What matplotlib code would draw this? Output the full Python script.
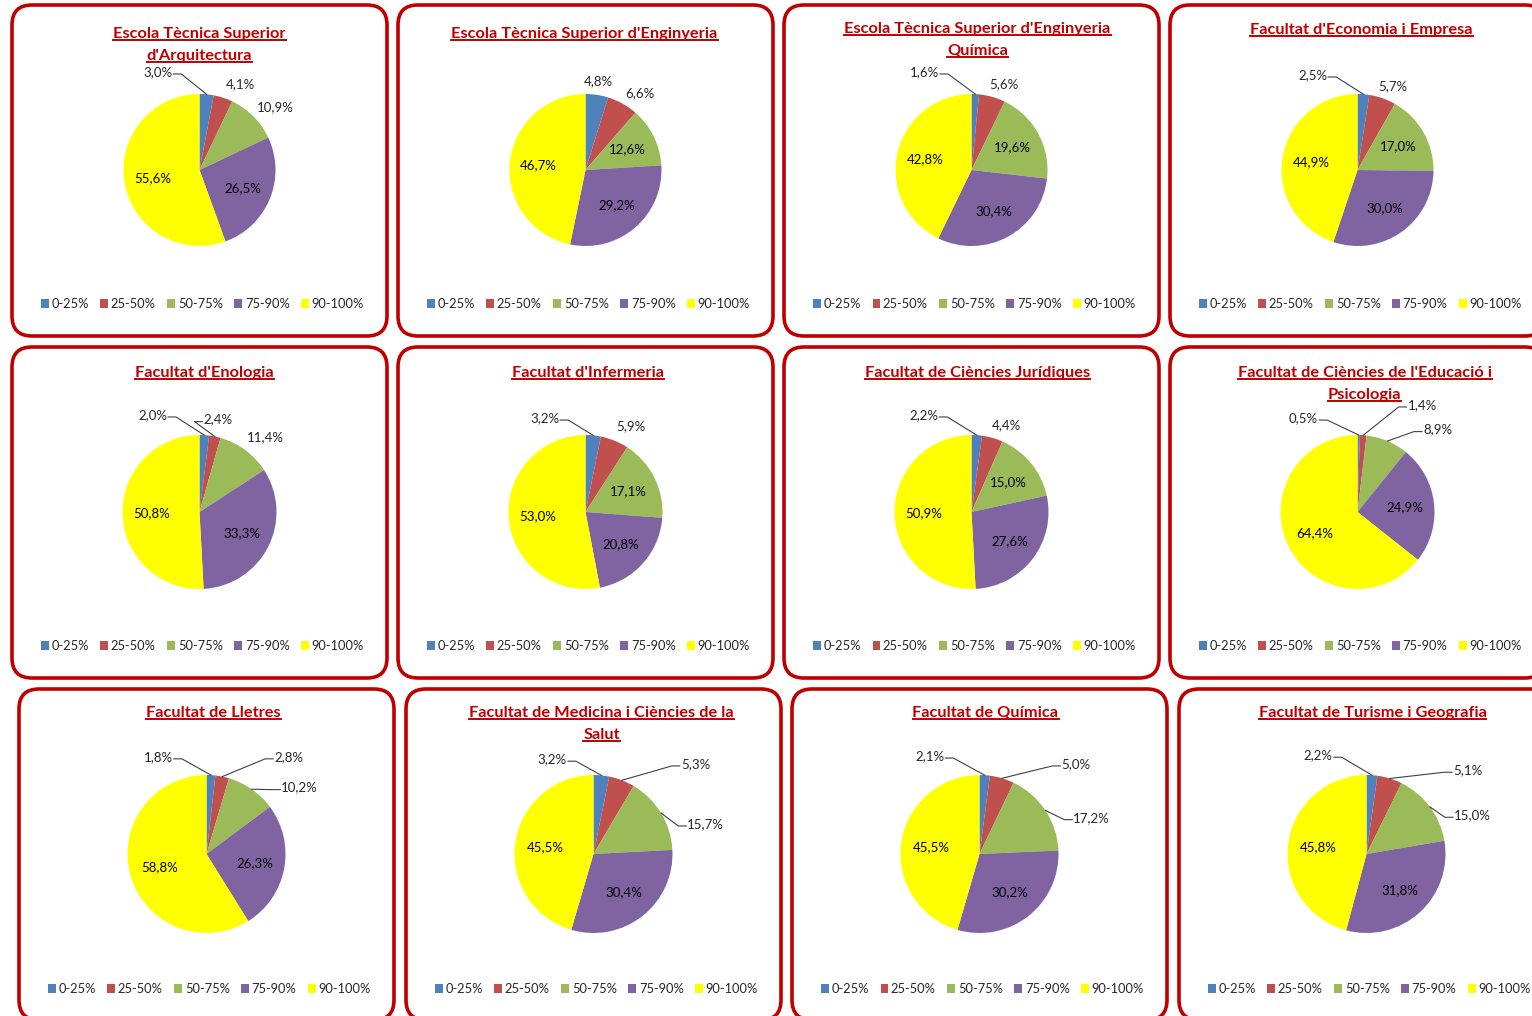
import numpy as np
import matplotlib
matplotlib.use('Agg')
from matplotlib import pyplot as plt
from matplotlib import patches
from matplotlib.lines import Line2D

plt.rcParams['font.family'] = ['Lato', 'DejaVu Sans']

# ~~~~~~~~~~~~~~~~~~~~   data  ~~~~~~~~~~~~~~~~~~~~~~~~~
categories = ['0-25%', '25-50%', '50-75%', '75-90%', '90-100%']
colors = ['#4F81BD', '#C0504D', '#9BBB59', '#8064A2', '#FFFF00']

titles = [
    ["Escola Tècnica Superior", "d'Arquitectura"],
    ["Escola Tècnica Superior d'Enginyeria"],
    ["Escola Tècnica Superior d'Enginyeria", "Química"],
    ["Facultat d'Economia i Empresa"],
    ["Facultat d'Enologia"],
    ["Facultat d'Infermeria"],
    ["Facultat de Ciències Jurídiques"],
    ["Facultat de Ciències de l'Educació i", "Psicologia"],
    ["Facultat de Lletres"],
    ["Facultat de Medicina i Ciències de la", "Salut"],
    ["Facultat de Química"],
    ["Facultat de Turisme i Geografia"],
]

values = [
    [3.0, 4.1, 10.9, 26.5, 55.6],
    [4.8, 6.6, 12.6, 29.2, 46.7],
    [1.6, 5.6, 19.6, 30.4, 42.8],
    [2.5, 5.7, 17.0, 30.0, 44.9],
    [2.0, 2.4, 11.4, 33.3, 50.8],
    [3.2, 5.9, 17.1, 20.8, 53.0],
    [2.2, 4.4, 15.0, 27.6, 50.9],
    [0.5, 1.4, 8.9, 24.9, 64.4],
    [1.8, 2.8, 10.2, 26.3, 58.8],
    [3.2, 5.3, 15.7, 30.4, 45.5],
    [2.1, 5.0, 17.2, 30.2, 45.5],
    [2.2, 5.1, 15.0, 31.8, 45.8],
]

# ~~~~~~~~~~~~~~~~~~~~   layout (pixels)  ~~~~~~~~~~~~~~~~~~~~~~~~~
W, H = 1532, 1016
box_w, box_h = 375, 331
row_tops = [5, 347, 689]
col_lefts = [[12, 398, 784, 1170], [12, 398, 784, 1170], [19, 406, 792, 1179]]
pie_y = [170, 512, 854]
pie_r = [76, 77, 79]
legend_y = [304, 646, 989]
title_y = [34, 34, 29, 30, 373, 373, 373, 373, 713, 713, 713, 713]
title_dx = [0, -1, 6, 4, 5, 2, 6, 7, 7, 8, 6, 6]

# outside labels: (slice, dx, dy in radius units, leader line)
outer = [
    [(0, -0.55, 1.29, True), (1, 0.54, 1.13, False), (2, 1.0, 0.83, False)],
    [(0, 0.17, 1.17, False), (1, 0.71, 1.01, False)],
    [(0, -0.62, 1.29, True), (1, 0.43, 1.13, False)],
    [(0, -0.59, 1.25, True), (1, 0.47, 1.10, False)],
    [(0, -0.61, 1.26, True), (1, 0.24, 1.20, True), (2, 0.86, 0.97, False)],
    [(0, -0.53, 1.22, True), (1, 0.59, 1.12, False)],
    [(0, -0.62, 1.26, True), (1, 0.46, 1.13, False)],
    [(0, -0.70, 1.22, True), (1, 0.84, 1.39, True), (2, 1.04, 1.07, True)],
    [(0, -0.61, 1.23, True), (1, 1.04, 1.23, True), (2, 1.18, 0.84, True)],
    [(0, -0.52, 1.20, True), (1, 1.29, 1.14, True), (2, 1.42, 0.38, True)],
    [(0, -0.63, 1.24, True), (1, 1.22, 1.14, True), (2, 1.42, 0.46, True)],
    [(0, -0.61, 1.25, True), (1, 1.28, 1.06, True), (2, 1.34, 0.49, True)],
]

red = '#C00000'
txt_col = '#262626'


def fmt(v):
    return ('%.1f%%' % v).replace('.', ',')


fig = plt.figure(figsize=(W / 100, H / 100), dpi=100)
ax = fig.add_axes([0, 0, 1, 1])

title_texts = []
leaders = []

for i, vals in enumerate(values):
    row, col = divmod(i, 4)
    left = col_lefts[row][col]
    top = row_tops[row]
    cx = left + box_w / 2
    cy = H - pie_y[row]
    r = pie_r[row]

    box = patches.FancyBboxPatch((left, H - top - box_h), box_w, box_h,
                                 boxstyle='round,pad=0,rounding_size=20',
                                 linewidth=2.6, edgecolor=red, facecolor='white',
                                 zorder=1)
    ax.add_patch(box)

    wedges, _ = ax.pie(vals, colors=colors, startangle=90, counterclock=False,
                       center=(cx, cy), radius=r,
                       wedgeprops=dict(linewidth=0, zorder=2))

    # mid angles
    cum = np.cumsum([0] + vals[:-1])
    tot = sum(vals)
    mids = [np.deg2rad(90 - (c + v / 2) / tot * 360) for c, v in zip(cum, vals)]

    outer_idx = [o[0] for o in outer[i]]
    for k, v in enumerate(vals):
        if k in outer_idx:
            continue
        ax.text(cx + 0.62 * r * np.cos(mids[k]), cy + 0.62 * r * np.sin(mids[k]),
                fmt(v), ha='center', va='center', fontsize=9.5, color='black',
                zorder=4)
    for k, dx, dy, lead in outer[i]:
        t = ax.text(cx + dx * r, cy + dy * r, fmt(vals[k]), ha='center',
                    va='center', fontsize=9.5, color=txt_col, zorder=4)
        if lead:
            edge = (cx + r * np.cos(mids[k]), cy + r * np.sin(mids[k]))
            leaders.append((t, edge, dx < 0))

    # title lines
    for j, line in enumerate(titles[i]):
        t = ax.text(cx + title_dx[i], H - title_y[i] - 22 * j, line,
                    ha='center', va='center', fontsize=11.8, fontweight='bold',
                    color=red, zorder=4)
        title_texts.append(t)

    # legend
    handles = [patches.Patch(facecolor=c, edgecolor='none') for c in colors]
    fig.legend(handles, categories, loc='center',
               bbox_to_anchor=((cx + 3) / W, 1 - legend_y[row] / H), ncol=5,
               frameon=False, fontsize=9.3, handlelength=0.6, handleheight=0.6,
               handletextpad=0.2, columnspacing=0.9, borderpad=0,
               labelcolor=txt_col)

ax.set_xlim(0, W)
ax.set_ylim(0, H)
ax.set_aspect('auto')
ax.axis('off')

# underlines + leader lines need text extents
fig.canvas.draw()
rend = fig.canvas.get_renderer()
for t in title_texts:
    bb = t.get_window_extent(rend)
    ax.add_line(Line2D([bb.x0, bb.x1], [bb.y0 + 1, bb.y0 + 1], color=red,
                       linewidth=1.4, zorder=4))
for t, edge, is_left in leaders:
    bb = t.get_window_extent(rend)
    ty = bb.y0 + 4
    if is_left:
        x0 = bb.x1 + 1
        xs = [x0, x0 + 8, edge[0]]
    else:
        x0 = bb.x0 - 1
        xs = [x0, x0 - 8, edge[0]]
    ax.add_line(Line2D(xs, [ty, ty, edge[1]], color='#404040', linewidth=0.8,
                       zorder=3))

fig.savefig('out.png', dpi=100)
